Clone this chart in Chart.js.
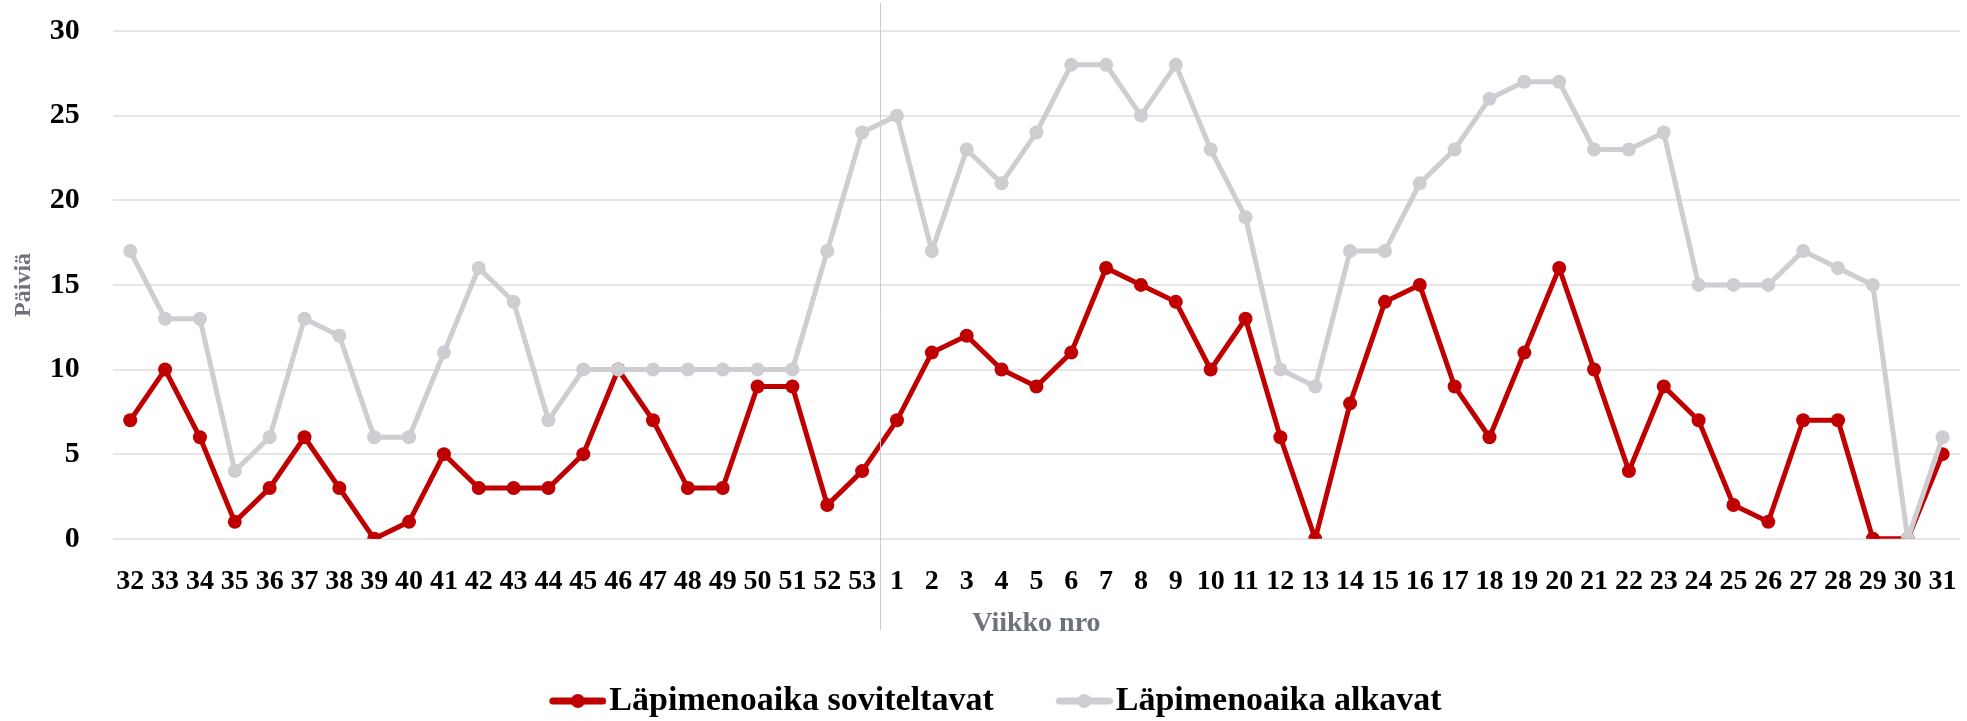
<!DOCTYPE html>
<html>
<head>
<meta charset="utf-8">
<script src="https://cdn.jsdelivr.net/npm/chart.js@4/dist/chart.umd.min.js"></script>
<style>
  html, body { margin: 0; padding: 0; background: #fff; }
  #wrap { width: 1967px; height: 721px; }
</style>
</head>
<body>
<div id="wrap"><canvas id="lapimeno"></canvas></div>
<script>
// viikot: syksy 32-53, sitten uusi vuosi 1-31
const weeks = ['32','33','34','35','36','37','38','39','40','41','42','43','44','45','46','47','48','49','50','51','52','53',
  '1','2','3','4','5','6','7','8','9','10','11','12','13','14','15','16','17','18','19','20','21','22','23','24','25','26','27','28','29','30','31'];

const soviteltavat = [7,10,6,1,3,6,3,0,1,5,3,3,3,5,10,7,3,3,9,9,2,4,
  7,11,12,10,9,11,16,15,14,10,13,6,0,8,14,15,9,6,11,16,10,4,9,7,2,1,7,7,0,0,5];

const alkavat = [17,13,13,4,6,13,12,6,6,11,16,14,7,10,10,10,10,10,10,10,17,24,
  25,17,23,21,24,28,28,25,28,23,19,10,9,17,17,21,23,26,27,27,23,23,24,15,15,15,17,16,15,0,6];

const yTicks = [0, 5, 10, 15, 20, 25, 30];

const RED = '#c00000';
const GREY = '#cdcdd2';
const FONT = "'Liberation Serif', 'DejaVu Serif', serif";

// legend marker: short line with a dot, sits at the right side of the canvas
function legendMarker(color) {
  const c = document.createElement('canvas');
  c.width = 90; c.height = 20;
  const g = c.getContext('2d');
  g.strokeStyle = color;
  g.lineWidth = 7;
  g.lineCap = 'round';
  g.beginPath(); g.moveTo(36.5, 10); g.lineTo(86.5, 10); g.stroke();
  g.fillStyle = color;
  g.beginPath(); g.arc(61.5, 10, 7, 0, Math.PI * 2); g.fill();
  return c;
}

// thin vertical line between week 53 and week 1
const yearBreak = {
  id: 'yearBreak',
  afterDatasetsDraw(chart) {
    const x = chart.scales.x;
    const i = weeks.indexOf('1');
    const px = (x.getPixelForTick(i - 1) + x.getPixelForTick(i)) / 2;
    const ctx = chart.ctx;
    ctx.save();
    ctx.strokeStyle = '#c9ccd3';
    ctx.lineWidth = 1;
    ctx.beginPath();
    ctx.moveTo(Math.round(px) + 0.5, 3);
    ctx.lineTo(Math.round(px) + 0.5, 630);
    ctx.stroke();
    ctx.restore();
  }
};

new Chart(document.getElementById('lapimeno'), {
  type: 'line',
  data: {
    labels: weeks,
    datasets: [
      {
        label: 'Läpimenoaika soviteltavat',
        data: soviteltavat,
        borderColor: RED,
        backgroundColor: RED,
        borderWidth: 5,
        pointRadius: 7,
        pointBorderWidth: 0,
        pointHoverRadius: 7,
        tension: 0,
        order: 1
      },
      {
        label: 'Läpimenoaika alkavat',
        data: alkavat,
        borderColor: GREY,
        backgroundColor: GREY,
        borderWidth: 5,
        pointRadius: 7,
        pointBorderWidth: 0,
        pointHoverRadius: 7,
        tension: 0,
        order: 0
      }
    ]
  },
  options: {
    responsive: true,
    maintainAspectRatio: false,
    animation: false,
    layout: { padding: { left: 5, right: 0, top: 31, bottom: 4 } },
    plugins: {
      tooltip: { enabled: false },
      legend: {
        position: 'bottom',
        maxHeight: 76,
        labels: {
          usePointStyle: true,
          pointStyleWidth: 62,
          padding: 43,
          color: '#000',
          font: { family: FONT, size: 34, weight: 'bold' },
          sort: (a, b) => a.datasetIndex - b.datasetIndex,
          generateLabels(chart) {
            return chart.data.datasets.map((ds, i) => ({
              text: ds.label,
              datasetIndex: i,
              pointStyle: legendMarker(ds.borderColor),
              fillStyle: ds.borderColor,
              strokeStyle: ds.borderColor,
              lineWidth: 0,
              fontColor: '#000'
            }));
          }
        }
      }
    },
    scales: {
      x: {
        offset: true,
        border: { display: false },
        grid: { display: false, drawTicks: true, tickLength: 26, tickColor: 'transparent' },
        ticks: {
          color: '#000',
          padding: 0,
          maxRotation: 0,
          autoSkip: false,
          font: { family: FONT, size: 28, weight: 'bold' }
        },
        title: {
          display: true,
          text: 'Viikko nro',
          color: '#6e727a',
          padding: { top: 9, bottom: 0 },
          font: { family: FONT, size: 28, weight: 'bold' }
        }
      },
      y: {
        min: 0,
        max: 30,
        border: { display: false },
        grid: { color: '#e6e6e6', lineWidth: 2, drawTicks: true, tickLength: 33, tickColor: 'transparent' },
        afterBuildTicks(scale) { scale.ticks = yTicks.map(v => ({ value: v })); },
        ticks: {
          color: '#000',
          padding: 0,
          font: { family: FONT, size: 30, weight: 'bold' }
        },
        title: {
          display: true,
          text: 'Päiviä',
          color: '#6e727a',
          padding: { top: 4, bottom: 12 },
          font: { family: FONT, size: 24, weight: 'bold' }
        }
      }
    }
  },
  plugins: [yearBreak]
});
</script>
</body>
</html>
